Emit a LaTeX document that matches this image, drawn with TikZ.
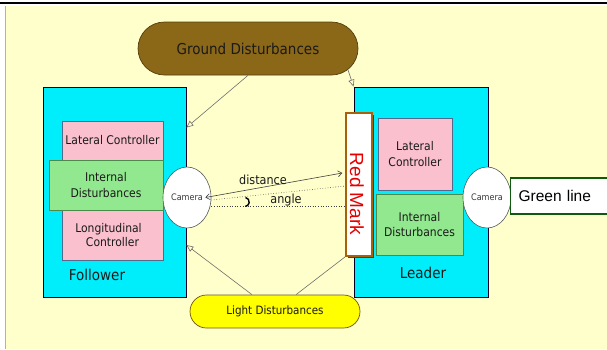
\documentclass[tikz,border=0pt]{standalone}
\usepackage{fontspec}
\setmainfont{DejaVu Sans Condensed}
\newfontfamily\arialf{Liberation Sans}
\usetikzlibrary{shapes.geometric,shapes.misc,arrows.meta,calc}
\definecolor{bgy}{HTML}{FFFFCC}
\definecolor{cyanb}{HTML}{00EEFC}
\definecolor{pinkb}{HTML}{FAC0CE}
\definecolor{greenb}{HTML}{92E88E}
\definecolor{brownb}{HTML}{8B6718}
\definecolor{yellowb}{HTML}{FFFF00}
\definecolor{txt}{HTML}{1A1A1A}
\definecolor{lnk}{HTML}{6E6E6E}
\definecolor{rmborder}{HTML}{A8600A}
\definecolor{gborder}{HTML}{0E5A0E}
\definecolor{pborder}{HTML}{4F6A8A}
\definecolor{grborder}{HTML}{4A8A4A}
\tikzset{
  box/.style={draw=#1, line width=0.8pt, inner sep=0pt, text=txt},
  outer/.style={box=black!85!blue, fill=cyanb},
  pinkbox/.style={box=pborder, fill=pinkb, align=center, font=\fontsize{12}{15.5}\selectfont},
  greenbox/.style={box=grborder, fill=greenb, align=center, font=\fontsize{12}{15.5}\selectfont},
  cam/.style={ellipse, draw=gray!70!black, line width=0.6pt, fill=white, inner sep=0pt, minimum width=48pt, minimum height=61pt, text=gray!45!black, font=\fontsize{9}{10}\selectfont},
  blob/.style={rounded rectangle, draw=#1, line width=0.7pt, inner sep=0pt, text=txt},
  link/.style={draw=lnk, line width=0.6pt},
  openarrow/.style={link, -{Triangle[open, length=7pt, width=6pt]}},
  lbl/.style={text=txt, inner sep=0pt},
}
\begin{document}
\begin{tikzpicture}[x=1pt,y=-1pt]
\useasboundingbox (0,0) rectangle (607,349);
\clip (0,0) rectangle (607,349);
\fill[white] (0,0) rectangle (607,349);
\fill[bgy] (5,6) rectangle (607,349);
\draw[gray!60, line width=0.6pt] (5,6) -- (5,349);
\draw[black, line width=2pt] (0,3) -- (607,3);

% boxes
\node[outer, minimum width=143pt, minimum height=210pt] (fol) at (114.5,192) {};
\node[outer, minimum width=134pt, minimum height=210pt] (lea) at (421,192) {};

\node[pinkbox, minimum width=101pt, minimum height=39pt] (flat) at (112.5,140.5) {Lateral Controller};
\node[pinkbox, minimum width=101pt, minimum height=50pt] (flon) at (112.5,235) {\hspace*{-8pt}Longitudinal\\[-1pt]Controller};
\node[greenbox, minimum width=114pt, minimum height=50pt] (fint) at (106,185) {Internal\\Disturbances};
\node[lbl, font=\fontsize{15}{16}\selectfont] (flab) at (97,275) {Follower};

\node[pinkbox, minimum width=74pt, minimum height=72pt] (llat) at (415,154) {Lateral\\Controller};
\node[greenbox, minimum width=87pt, minimum height=61pt] (lint) at (419.5,224.5) {Internal\\Disturbances};
\node[lbl, font=\fontsize{15}{16}\selectfont] (llab) at (423,273) {Leader};

% red mark
\fill[red!85!black] (348,115) rectangle (374,258);
\node[draw=rmborder, line width=1.3pt, fill=white, inner sep=0pt, minimum width=26pt, minimum height=143pt] (rm) at (359,184.5) {};
\node[rotate=-90, text=red!90!black, font=\arialf\fontsize{19}{20}\selectfont, inner sep=0pt] (rmt) at (357,194) {Red Mark};

% cameras
\node[cam] (camf) at (187,197.5) {Camera};
\node[cam] (caml) at (487,197.5) {Camera};

% green line
\node[draw=gborder, line width=1.2pt, fill=white, anchor=west, minimum height=36pt, text width=90pt, inner xsep=8pt, inner ysep=0pt, align=left, font=\arialf\fontsize{15.5}{17}\selectfont, text=black] (gl) at (510,196) {Green line};

% disturbances
\node[blob=brownb!60!black, fill=brownb, minimum width=220pt, minimum height=53pt, font=\fontsize{15}{16}\selectfont] (gd) at (248,48.5) {Ground Disturbances};
\node[blob=brownb!80!black, fill=yellowb, minimum width=170pt, minimum height=33pt, font=\fontsize{11.5}{12}\selectfont] (ld) at (275,311.5) {Light Disturbances};

% connectors
\draw[openarrow] (gd.-12) -- (lea.north west);
\draw[openarrow] (gd.south) -- ([yshift=-41pt]fol.north east);
\draw[openarrow] ([xshift=-23pt]ld.north) -- ([yshift=-53pt]fol.east);
\draw[link] ([xshift=21pt]ld.north) -- (rm.south west);

% distance / angle
\draw[black!75, line width=0.6pt, {Straight Barb[length=4pt,width=6pt]}-{Straight Barb[length=4pt,width=6pt]}] ([xshift=-6pt]camf.east) -- ([xshift=-3pt,yshift=11.5pt]rm.west);
\draw[black!75, line width=0.6pt, dotted] ([yshift=-2.5pt]camf.east) -- ([yshift=-1.5pt]rm.west);
\draw[black!75, line width=0.6pt, dotted] ([yshift=-8.5pt]camf.east) -- ([yshift=-21.5pt]rm.west);
\draw[black, line width=1.4pt] (245.5,197.5) arc[start angle=-80, end angle=80, radius=4.5];
\node[lbl, font=\fontsize{12.5}{13}\selectfont] (dist) at (263,180) {distance};
\node[lbl, font=\fontsize{12.5}{13}\selectfont] (ang) at (286,200) {angle};
\end{tikzpicture}
\end{document}
